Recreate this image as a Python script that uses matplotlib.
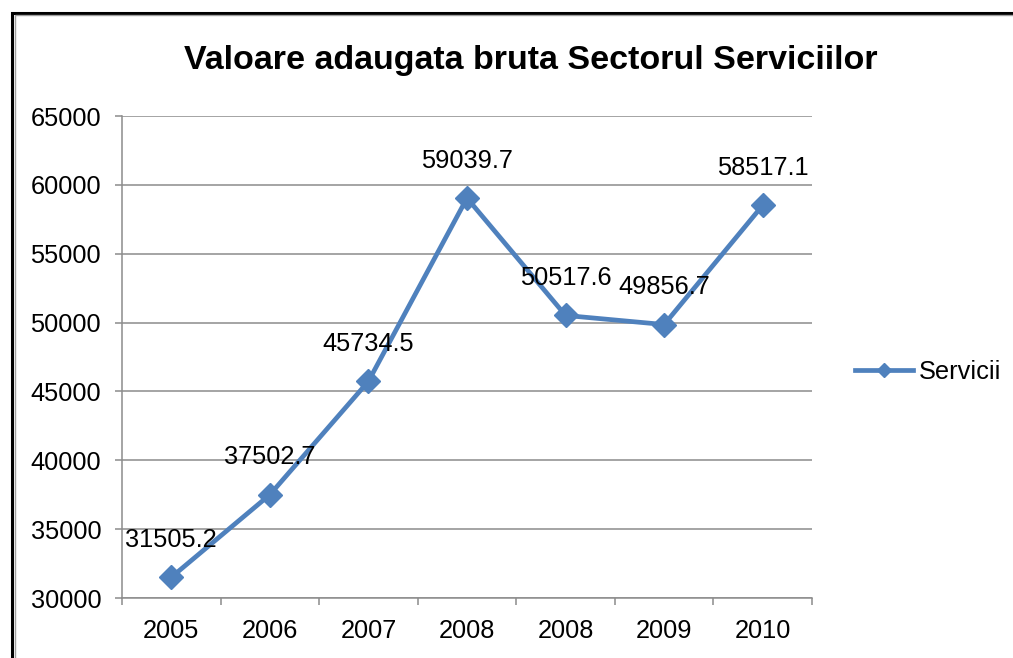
import matplotlib.pyplot as plt
from matplotlib.patches import Rectangle
from matplotlib.ticker import FixedLocator, NullFormatter

years = ['2005', '2006', '2007', '2008', '2008', '2009', '2010']
servicii = [31505.2, 37502.7, 45734.5, 59039.7, 50517.6, 49856.7, 58517.1]
y_ticks = [30000, 35000, 40000, 45000, 50000, 55000, 60000, 65000]

plt.rcParams['font.family'] = ['Liberation Sans', 'DejaVu Sans']
blue = '#4F81BD'
grey = '#8C8C8C'
fs = 18.3

fig = plt.figure(figsize=(10.13, 6.58), dpi=100)
ax = fig.add_axes([122 / 1013, 1 - 598 / 658, 690 / 1013, 482 / 658])

x = list(range(len(years)))
ax.plot(x, servicii, color=blue, lw=3.4, marker='D', ms=12, mec=blue, mfc=blue,
        label='Servicii', zorder=3)

# etichete de date deasupra punctelor
for xi, v in zip(x, servicii):
    ax.annotate(f'{v:.1f}', (xi, v), xytext=(0, 27), textcoords='offset points',
                ha='center', va='center', fontsize=fs, color='black', zorder=4)

ax.set_xlim(-0.5, len(years) - 0.5)
ax.set_ylim(30000, 65000)
ax.set_yticks(y_ticks)
ax.set_yticklabels([str(t) for t in y_ticks])
ax.set_xticks(x)
ax.set_xticklabels(years)
ax.xaxis.set_minor_locator(FixedLocator([i - 0.5 for i in range(len(years) + 1)]))
ax.xaxis.set_minor_formatter(NullFormatter())

ax.grid(axis='y', color=grey, lw=1.1, zorder=0)
ax.set_axisbelow(True)
for s in ['top', 'right']:
    ax.spines[s].set_visible(False)
for s in ['left', 'bottom']:
    ax.spines[s].set_color(grey)
    ax.spines[s].set_linewidth(1.1)

ax.tick_params(axis='y', which='major', length=5, width=1.1, color=grey, pad=10, labelsize=fs)
ax.tick_params(axis='x', which='major', length=0, pad=15, labelsize=fs)
ax.tick_params(axis='x', which='minor', length=5, width=1.1, color=grey)

fig.text(531 / 1013, 1 - 61 / 658, 'Valoare adaugata bruta Sectorul Serviciilor',
         ha='center', va='center', fontsize=24.5, fontweight='bold')

ax.legend(loc='center left', bbox_to_anchor=(855 / 1013, 1 - 372 / 658),
          bbox_transform=fig.transFigure, frameon=False, fontsize=fs,
          handlelength=2.3, handletextpad=0.2, borderaxespad=0, borderpad=0,
          markerscale=0.6)

# rama graficului (stanga si sus)
fig.patches.append(Rectangle((12 / 1013, -0.1), 1.2, 1.1 - 13 / 658, transform=fig.transFigure,
                             fill=False, ec='black', lw=2.2, zorder=10))
fig.patches.append(Rectangle((14.5 / 1013, -0.1), 1.2, 1.1 - 15.5 / 658, transform=fig.transFigure,
                             fill=False, ec='#A0A0A0', lw=1.0, zorder=10))

fig.savefig('out.png', dpi=100)
